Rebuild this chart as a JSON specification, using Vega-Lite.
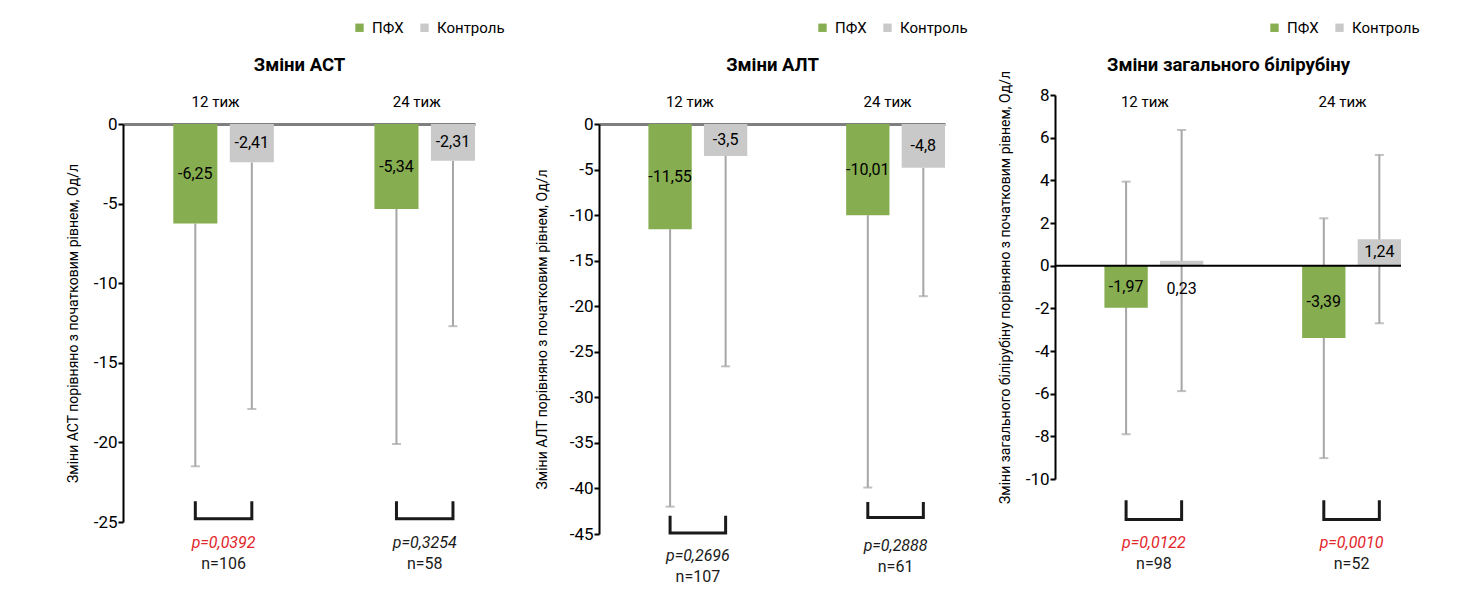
{
  "$schema": "https://vega.github.io/schema/vega-lite/v6.json",
  "background": "white",
  "padding": {"left": 66, "top": 20, "right": 5, "bottom": 5},
  "config": {
    "font": "Roboto",
    "locale": {"number": {"decimal": ",", "thousands": " ", "grouping": [3], "currency": ["", ""], "minus": "-"}},
    "view": {"stroke": null},
    "concat": {"spacing": 30},
    "axisX": {"ticks": false, "domainColor": "#7f7f7f", "domainWidth": 3, "labelFontSize": 15, "labelColor": "#000", "labelPadding": 15, "labelOffset": -8, "titleFontSize": 18.5, "titleFontWeight": "bold", "titleColor": "#000", "titlePadding": 20, "labelAngle": 0, "grid": false},
    "axisY": {"domainColor": "#000", "domainWidth": 2, "tickColor": "#000", "tickWidth": 2, "tickSize": 5, "labelFontSize": 17, "labelColor": "#000", "labelPadding": 1, "labelOverlap": false, "tickCount": 20, "titleFontSize": 14, "titleFontWeight": "normal", "titleColor": "#000", "titlePadding": 13, "grid": false},
    "legend": {"orient": "none", "direction": "horizontal", "title": null, "symbolType": "square", "symbolSize": 70, "symbolStrokeWidth": 0, "labelFontSize": 15, "labelColor": "#000", "columnPadding": 13, "labelOffset": 5}
  },
  "datasets": {
    "bars": [
      {"panel": "AST", "week": "12 тиж", "group": "ПФХ", "value": -6.25, "lo": -21.5, "hi": -6.25},
      {"panel": "AST", "week": "12 тиж", "group": "Контроль", "value": -2.41, "lo": -17.9, "hi": -2.41},
      {"panel": "AST", "week": "24 тиж", "group": "ПФХ", "value": -5.34, "lo": -20.1, "hi": -5.34},
      {"panel": "AST", "week": "24 тиж", "group": "Контроль", "value": -2.31, "lo": -12.7, "hi": -2.31},
      {"panel": "ALT", "week": "12 тиж", "group": "ПФХ", "value": -11.55, "lo": -42.0, "hi": -11.55},
      {"panel": "ALT", "week": "12 тиж", "group": "Контроль", "value": -3.5, "lo": -26.6, "hi": -3.5},
      {"panel": "ALT", "week": "24 тиж", "group": "ПФХ", "value": -10.01, "lo": -39.9, "hi": -10.01},
      {"panel": "ALT", "week": "24 тиж", "group": "Контроль", "value": -4.8, "lo": -18.9, "hi": -4.8},
      {"panel": "BIL", "week": "12 тиж", "group": "ПФХ", "value": -1.97, "lo": -7.9, "hi": 3.94},
      {"panel": "BIL", "week": "12 тиж", "group": "Контроль", "value": 0.23, "lo": -5.88, "hi": 6.36},
      {"panel": "BIL", "week": "24 тиж", "group": "ПФХ", "value": -3.39, "lo": -9.02, "hi": 2.22},
      {"panel": "BIL", "week": "24 тиж", "group": "Контроль", "value": 1.24, "lo": -2.7, "hi": 5.19}
    ],
    "notes": [
      {"panel": "AST", "week": "12 тиж", "p": 0.0392, "pText": "p=0,0392", "nText": "n=106", "at": -26.3},
      {"panel": "AST", "week": "24 тиж", "p": 0.3254, "pText": "p=0,3254", "nText": "n=58", "at": -26.3},
      {"panel": "ALT", "week": "12 тиж", "p": 0.2696, "pText": "p=0,2696", "nText": "n=107", "at": -47.4},
      {"panel": "ALT", "week": "24 тиж", "p": 0.2888, "pText": "p=0,2888", "nText": "n=61", "at": -46.3},
      {"panel": "BIL", "week": "12 тиж", "p": 0.0122, "pText": "p=0,0122", "nText": "n=98", "at": -13.0},
      {"panel": "BIL", "week": "24 тиж", "p": 0.001, "pText": "p=0,0010", "nText": "n=52", "at": -13.0}
    ],
    "brackets": [
      {"panel": "AST", "week": "12 тиж", "group": "ПФХ", "y": -23.7, "ord": 1},
      {"panel": "AST", "week": "12 тиж", "group": "ПФХ", "y": -24.8, "ord": 2},
      {"panel": "AST", "week": "12 тиж", "group": "Контроль", "y": -24.8, "ord": 3},
      {"panel": "AST", "week": "12 тиж", "group": "Контроль", "y": -23.7, "ord": 4},
      {"panel": "AST", "week": "24 тиж", "group": "ПФХ", "y": -23.7, "ord": 1},
      {"panel": "AST", "week": "24 тиж", "group": "ПФХ", "y": -24.8, "ord": 2},
      {"panel": "AST", "week": "24 тиж", "group": "Контроль", "y": -24.8, "ord": 3},
      {"panel": "AST", "week": "24 тиж", "group": "Контроль", "y": -23.7, "ord": 4},
      {"panel": "ALT", "week": "12 тиж", "group": "ПФХ", "y": -43.0, "ord": 1},
      {"panel": "ALT", "week": "12 тиж", "group": "ПФХ", "y": -44.9, "ord": 2},
      {"panel": "ALT", "week": "12 тиж", "group": "Контроль", "y": -44.9, "ord": 3},
      {"panel": "ALT", "week": "12 тиж", "group": "Контроль", "y": -43.0, "ord": 4},
      {"panel": "ALT", "week": "24 тиж", "group": "ПФХ", "y": -41.5, "ord": 1},
      {"panel": "ALT", "week": "24 тиж", "group": "ПФХ", "y": -43.2, "ord": 2},
      {"panel": "ALT", "week": "24 тиж", "group": "Контроль", "y": -43.2, "ord": 3},
      {"panel": "ALT", "week": "24 тиж", "group": "Контроль", "y": -41.5, "ord": 4},
      {"panel": "BIL", "week": "12 тиж", "group": "ПФХ", "y": -11.0, "ord": 1},
      {"panel": "BIL", "week": "12 тиж", "group": "ПФХ", "y": -11.9, "ord": 2},
      {"panel": "BIL", "week": "12 тиж", "group": "Контроль", "y": -11.9, "ord": 3},
      {"panel": "BIL", "week": "12 тиж", "group": "Контроль", "y": -11.0, "ord": 4},
      {"panel": "BIL", "week": "24 тиж", "group": "ПФХ", "y": -11.0, "ord": 1},
      {"panel": "BIL", "week": "24 тиж", "group": "ПФХ", "y": -11.9, "ord": 2},
      {"panel": "BIL", "week": "24 тиж", "group": "Контроль", "y": -11.9, "ord": 3},
      {"panel": "BIL", "week": "24 тиж", "group": "Контроль", "y": -11.0, "ord": 4}
    ]
  },
  "resolve": {"scale": {"color": "independent", "xOffset": "independent"}, "legend": {"color": "independent"}},
  "hconcat": [
    {
      "width": 352, "height": 398,
      "resolve": {"scale": {"y": "independent"}},
      "layer": [
        {
          "layer": [
            {
              "data": {"name": "bars"},
              "transform": [{"filter": "datum.panel === 'AST'"}],
              "mark": {"type": "rule", "color": "#a6a6a6", "strokeWidth": 2},
              "encoding": {
                "x": {"field": "week", "type": "nominal", "scale": {"paddingInner": 0.5, "paddingOuter": 0.125, "align": 1}, "axis": {"orient": "top", "title": "Зміни АСТ"}},
                "xOffset": {"field": "group", "type": "nominal", "scale": {"domain": ["ПФХ", "Контроль"], "paddingInner": 0.22, "paddingOuter": 0}},
                "y": {"field": "lo", "type": "quantitative", "scale": {"domain": [-25, 0], "nice": false, "zero": false}, "axis": {"values": [0, -5, -10, -15, -20, -25], "tickCount": 20, "title": "Зміни АСТ порівняно з початковим рівнем, Од/л", "titlePadding": 13, "labelOverlap": false}},
                "y2": {"field": "hi"}
              }
            },
            {
              "data": {"name": "bars"},
              "transform": [{"filter": "datum.panel === 'AST'"}],
              "mark": {"type": "tick", "orient": "horizontal", "color": "#a6a6a6", "size": 9, "thickness": 2},
              "encoding": {
                "x": {"field": "week", "type": "nominal"},
                "xOffset": {"field": "group", "type": "nominal"},
                "y": {"field": "lo", "type": "quantitative", "scale": {"domain": [-25, 0], "nice": false, "zero": false}}
              }
            },
            {
              "data": {"name": "bars"},
              "transform": [{"filter": "datum.panel === 'AST'"}],
              "mark": {"type": "bar"},
              "encoding": {
                "x": {"field": "week", "type": "nominal"},
                "xOffset": {"field": "group", "type": "nominal"},
                "y": {"field": "value", "type": "quantitative", "scale": {"domain": [-25, 0], "nice": false, "zero": false}},
                "color": {"field": "group", "type": "nominal", "scale": {"domain": ["ПФХ", "Контроль"], "range": ["#86AD50", "#C9C9C9"]}, "legend": {"legendX": 229, "legendY": -104}}
              }
            },
            {
              "data": {"name": "brackets"},
              "transform": [{"filter": "datum.panel === 'AST'"}],
              "mark": {"type": "line", "color": "#1a1a1a", "strokeWidth": 3, "strokeJoin": "miter"},
              "encoding": {
                "x": {"field": "week", "type": "nominal"},
                "xOffset": {"field": "group", "type": "nominal"},
                "y": {"field": "y", "type": "quantitative", "scale": {"domain": [-25, 0], "nice": false, "zero": false}},
                "detail": {"field": "week"},
                "order": {"field": "ord"}
              }
            },
            {
              "data": {"name": "notes"},
              "transform": [{"filter": "datum.panel === 'AST'"}],
              "mark": {"type": "text", "fontSize": 16, "fontStyle": "italic"},
              "encoding": {
                "x": {"field": "week", "type": "nominal"},
                "y": {"field": "at", "type": "quantitative", "scale": {"domain": [-25, 0], "nice": false, "zero": false}},
                "text": {"field": "pText"},
                "color": {"condition": {"test": "datum.p < 0.05", "value": "#E3262B"}, "value": "#1a1a1a"}
              }
            },
            {
              "data": {"name": "notes"},
              "transform": [{"filter": "datum.panel === 'AST'"}],
              "mark": {"type": "text", "fontSize": 16, "dy": 21, "color": "#1a1a1a"},
              "encoding": {
                "x": {"field": "week", "type": "nominal"},
                "y": {"field": "at", "type": "quantitative", "scale": {"domain": [-25, 0], "nice": false, "zero": false}},
                "text": {"field": "nText"}
              }
            }
          ]
        },
        {
          "data": {"name": "bars"},
          "transform": [{"filter": "datum.panel === 'AST'"}],
          "mark": {"type": "text", "fontSize": 16, "color": "#000"},
          "encoding": {
            "x": {"field": "week", "type": "nominal"},
            "xOffset": {"field": "group", "type": "nominal"},
            "y": {"field": "value", "type": "quantitative", "scale": {"domain": [-50, 0], "nice": false, "zero": false}, "axis": null},
            "text": {"field": "value", "type": "quantitative"}
          }
        }
      ]
    },
    {
      "width": 346, "height": 410,
      "resolve": {"scale": {"y": "independent"}},
      "layer": [
        {
          "layer": [
            {
              "data": {"name": "bars"},
              "transform": [{"filter": "datum.panel === 'ALT'"}],
              "mark": {"type": "rule", "color": "#a6a6a6", "strokeWidth": 2},
              "encoding": {
                "x": {"field": "week", "type": "nominal", "scale": {"paddingInner": 0.5, "paddingOuter": 0.125, "align": 1}, "axis": {"orient": "top", "title": "Зміни АЛТ"}},
                "xOffset": {"field": "group", "type": "nominal", "scale": {"domain": ["ПФХ", "Контроль"], "paddingInner": 0.22, "paddingOuter": 0}},
                "y": {"field": "lo", "type": "quantitative", "scale": {"domain": [-45, 0], "nice": false, "zero": false}, "axis": {"values": [0, -5, -10, -15, -20, -25, -30, -35, -40, -45], "tickCount": 20, "title": "Зміни АЛТ порівняно з початковим рівнем, Од/л", "titlePadding": 20, "labelOverlap": false}},
                "y2": {"field": "hi"}
              }
            },
            {
              "data": {"name": "bars"},
              "transform": [{"filter": "datum.panel === 'ALT'"}],
              "mark": {"type": "tick", "orient": "horizontal", "color": "#a6a6a6", "size": 9, "thickness": 2},
              "encoding": {
                "x": {"field": "week", "type": "nominal"},
                "xOffset": {"field": "group", "type": "nominal"},
                "y": {"field": "lo", "type": "quantitative", "scale": {"domain": [-45, 0], "nice": false, "zero": false}}
              }
            },
            {
              "data": {"name": "bars"},
              "transform": [{"filter": "datum.panel === 'ALT'"}],
              "mark": {"type": "bar"},
              "encoding": {
                "x": {"field": "week", "type": "nominal"},
                "xOffset": {"field": "group", "type": "nominal"},
                "y": {"field": "value", "type": "quantitative", "scale": {"domain": [-45, 0], "nice": false, "zero": false}},
                "color": {"field": "group", "type": "nominal", "scale": {"domain": ["ПФХ", "Контроль"], "range": ["#86AD50", "#C9C9C9"]}, "legend": {"legendX": 216, "legendY": -104}}
              }
            },
            {
              "data": {"name": "brackets"},
              "transform": [{"filter": "datum.panel === 'ALT'"}],
              "mark": {"type": "line", "color": "#1a1a1a", "strokeWidth": 3, "strokeJoin": "miter"},
              "encoding": {
                "x": {"field": "week", "type": "nominal"},
                "xOffset": {"field": "group", "type": "nominal"},
                "y": {"field": "y", "type": "quantitative", "scale": {"domain": [-45, 0], "nice": false, "zero": false}},
                "detail": {"field": "week"},
                "order": {"field": "ord"}
              }
            },
            {
              "data": {"name": "notes"},
              "transform": [{"filter": "datum.panel === 'ALT'"}],
              "mark": {"type": "text", "fontSize": 16, "fontStyle": "italic"},
              "encoding": {
                "x": {"field": "week", "type": "nominal"},
                "y": {"field": "at", "type": "quantitative", "scale": {"domain": [-45, 0], "nice": false, "zero": false}},
                "text": {"field": "pText"},
                "color": {"condition": {"test": "datum.p < 0.05", "value": "#E3262B"}, "value": "#1a1a1a"}
              }
            },
            {
              "data": {"name": "notes"},
              "transform": [{"filter": "datum.panel === 'ALT'"}],
              "mark": {"type": "text", "fontSize": 16, "dy": 21, "color": "#1a1a1a"},
              "encoding": {
                "x": {"field": "week", "type": "nominal"},
                "y": {"field": "at", "type": "quantitative", "scale": {"domain": [-45, 0], "nice": false, "zero": false}},
                "text": {"field": "nText"}
              }
            }
          ]
        },
        {
          "data": {"name": "bars"},
          "transform": [{"filter": "datum.panel === 'ALT'"}],
          "mark": {"type": "text", "fontSize": 16, "color": "#000"},
          "encoding": {
            "x": {"field": "week", "type": "nominal"},
            "xOffset": {"field": "group", "type": "nominal"},
            "y": {"field": "value", "type": "quantitative", "scale": {"domain": [-90, 0], "nice": false, "zero": false}, "axis": null},
            "text": {"field": "value", "type": "quantitative"}
          }
        }
      ]
    },
    {
      "width": 346, "height": 355,
      "resolve": {"scale": {"y": "independent"}},
      "layer": [
        {
          "layer": [
            {
              "data": {"name": "bars"},
              "transform": [{"filter": "datum.panel === 'BIL'"}],
              "mark": {"type": "rule", "color": "#a6a6a6", "strokeWidth": 2},
              "encoding": {
                "x": {"field": "week", "type": "nominal", "scale": {"paddingInner": 0.5, "paddingOuter": 0.125, "align": 1}, "axis": {"orient": "top", "title": "Зміни загального білірубіну", "domain": false, "labelOffset": -9}},
                "xOffset": {"field": "group", "type": "nominal", "scale": {"domain": ["ПФХ", "Контроль"], "paddingInner": 0.22, "paddingOuter": 0}},
                "y": {"field": "lo", "type": "quantitative", "scale": {"domain": [-10, 8], "range": [355, -29], "nice": false, "zero": false}, "axis": {"values": [8, 6, 4, 2, 0, -2, -4, -6, -8, -10], "tickCount": 20, "title": "Зміни загального білірубіну порівняно з початковим рівнем, Од/л", "titlePadding": 13, "labelOverlap": false}},
                "y2": {"field": "hi"}
              }
            },
            {
              "data": {"name": "bars"},
              "transform": [{"filter": "datum.panel === 'BIL'"}],
              "mark": {"type": "tick", "orient": "horizontal", "color": "#a6a6a6", "size": 9, "thickness": 2},
              "encoding": {
                "x": {"field": "week", "type": "nominal"},
                "xOffset": {"field": "group", "type": "nominal"},
                "y": {"field": "lo", "type": "quantitative", "scale": {"domain": [-10, 8], "range": [355, -29], "nice": false, "zero": false}}
              }
            },
            {
              "data": {"name": "bars"},
              "transform": [{"filter": "datum.panel === 'BIL'"}],
              "mark": {"type": "tick", "orient": "horizontal", "color": "#a6a6a6", "size": 9, "thickness": 2},
              "encoding": {
                "x": {"field": "week", "type": "nominal"},
                "xOffset": {"field": "group", "type": "nominal"},
                "y": {"field": "hi", "type": "quantitative", "scale": {"domain": [-10, 8], "range": [355, -29], "nice": false, "zero": false}}
              }
            },
            {
              "data": {"name": "bars"},
              "transform": [{"filter": "datum.panel === 'BIL'"}],
              "mark": {"type": "bar"},
              "encoding": {
                "x": {"field": "week", "type": "nominal"},
                "xOffset": {"field": "group", "type": "nominal"},
                "y": {"field": "value", "type": "quantitative", "scale": {"domain": [-10, 8], "range": [355, -29], "nice": false, "zero": false}},
                "color": {"field": "group", "type": "nominal", "scale": {"domain": ["ПФХ", "Контроль"], "range": ["#86AD50", "#C9C9C9"]}, "legend": {"legendX": 212, "legendY": -104}}
              }
            },
            {
              "data": {"values": [{}]},
              "mark": {"type": "rule", "color": "#000", "strokeWidth": 2},
              "encoding": {"y": {"datum": 0, "type": "quantitative", "scale": {"domain": [-10, 8], "range": [355, -29], "nice": false, "zero": false}}}
            },
            {
              "data": {"name": "brackets"},
              "transform": [{"filter": "datum.panel === 'BIL'"}],
              "mark": {"type": "line", "color": "#1a1a1a", "strokeWidth": 3, "strokeJoin": "miter"},
              "encoding": {
                "x": {"field": "week", "type": "nominal"},
                "xOffset": {"field": "group", "type": "nominal"},
                "y": {"field": "y", "type": "quantitative", "scale": {"domain": [-10, 8], "range": [355, -29], "nice": false, "zero": false}},
                "detail": {"field": "week"},
                "order": {"field": "ord"}
              }
            },
            {
              "data": {"name": "notes"},
              "transform": [{"filter": "datum.panel === 'BIL'"}],
              "mark": {"type": "text", "fontSize": 16, "fontStyle": "italic"},
              "encoding": {
                "x": {"field": "week", "type": "nominal"},
                "y": {"field": "at", "type": "quantitative", "scale": {"domain": [-10, 8], "range": [355, -29], "nice": false, "zero": false}},
                "text": {"field": "pText"},
                "color": {"condition": {"test": "datum.p < 0.05", "value": "#E3262B"}, "value": "#1a1a1a"}
              }
            },
            {
              "data": {"name": "notes"},
              "transform": [{"filter": "datum.panel === 'BIL'"}],
              "mark": {"type": "text", "fontSize": 16, "dy": 21, "color": "#1a1a1a"},
              "encoding": {
                "x": {"field": "week", "type": "nominal"},
                "y": {"field": "at", "type": "quantitative", "scale": {"domain": [-10, 8], "range": [355, -29], "nice": false, "zero": false}},
                "text": {"field": "nText"}
              }
            }
          ]
        },
        {
          "data": {"name": "bars"},
          "transform": [{"filter": "datum.panel === 'BIL'"}],
          "mark": {"type": "text", "fontSize": 16, "color": "#000", "dy": {"expr": "abs(datum.value) < 0.5 ? 26 : 0"}},
          "encoding": {
            "x": {"field": "week", "type": "nominal"},
            "xOffset": {"field": "group", "type": "nominal"},
            "y": {"field": "value", "type": "quantitative", "scale": {"domain": [-20, 16], "range": [355, -29], "nice": false, "zero": false}, "axis": null},
            "text": {"field": "value", "type": "quantitative"}
          }
        }
      ]
    }
  ]
}
